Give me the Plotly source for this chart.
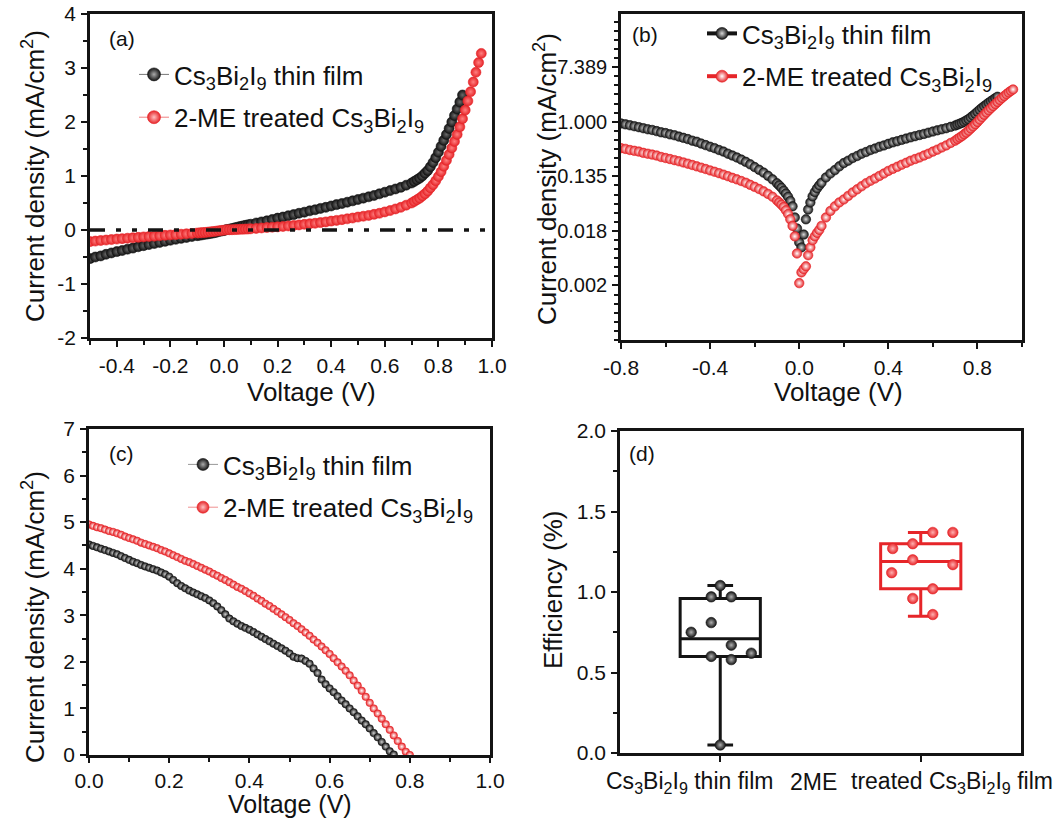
import numpy as np
import plotly.graph_objects as go

# ---------------- data ----------------
# (a)/(b) dark J-V (signed current density, mA/cm2)
V_dark_black = [-0.80, -0.78, -0.76, -0.74, -0.72, -0.70, -0.68, -0.66, -0.64, -0.62, -0.60, -0.58,
                -0.56, -0.54, -0.52, -0.50, -0.48, -0.46, -0.44, -0.42, -0.40, -0.38, -0.36, -0.34,
                -0.32, -0.30, -0.28, -0.26, -0.24, -0.22, -0.20, -0.18, -0.16, -0.14, -0.12, -0.10,
                -0.09, -0.08, -0.07, -0.06, -0.05, -0.04, -0.03, -0.02, -0.01, 0.00, 0.01, 0.02,
                0.03, 0.04, 0.05, 0.06, 0.07, 0.08, 0.09, 0.10,
                0.12, 0.14, 0.16, 0.18, 0.20, 0.22, 0.24, 0.26, 0.28, 0.30, 0.32, 0.34, 0.36, 0.38,
                0.40, 0.42, 0.44, 0.46, 0.48, 0.50, 0.52, 0.54, 0.56, 0.58, 0.60, 0.62, 0.64, 0.66,
                0.68, 0.70, 0.71, 0.72, 0.73, 0.74, 0.75, 0.76, 0.77, 0.78, 0.79, 0.80, 0.81, 0.82,
                0.83, 0.84, 0.85, 0.86, 0.87, 0.88, 0.89]
J_dark_black = [-0.94, -0.91, -0.88, -0.85, -0.82, -0.79, -0.76, -0.74, -0.71, -0.68, -0.66, -0.63,
                -0.61, -0.58, -0.555, -0.53, -0.50, -0.48, -0.45, -0.425, -0.40, -0.38, -0.355, -0.335,
                -0.31, -0.29, -0.27, -0.25, -0.23, -0.21, -0.19, -0.172, -0.155, -0.138, -0.121, -0.105,
                -0.097, -0.089, -0.080, -0.072, -0.064, -0.055, -0.045, -0.030, -0.020, -0.012, 0.010, 0.016,
                0.028, 0.040, 0.052, 0.065, 0.076, 0.087, 0.097, 0.107,
                0.13, 0.15, 0.17, 0.195, 0.22, 0.24, 0.265, 0.285, 0.31, 0.33, 0.355, 0.375, 0.40, 0.42,
                0.445, 0.47, 0.49, 0.515, 0.54, 0.565, 0.59, 0.615, 0.64, 0.67, 0.70, 0.73, 0.76, 0.79,
                0.83, 0.87, 0.90, 0.93, 0.96, 1.00, 1.05, 1.10, 1.17, 1.25, 1.34, 1.44, 1.55, 1.66,
                1.77, 1.88, 2.00, 2.12, 2.24, 2.37, 2.50]

V_dark_red = [-0.80, -0.78, -0.76, -0.74, -0.72, -0.70, -0.68, -0.66, -0.64, -0.62, -0.60, -0.58,
              -0.56, -0.54, -0.52, -0.50, -0.48, -0.46, -0.44, -0.42, -0.40, -0.38, -0.36, -0.34,
              -0.32, -0.30, -0.28, -0.26, -0.24, -0.22, -0.20, -0.18, -0.16, -0.14, -0.12, -0.10,
              -0.09, -0.08, -0.07, -0.06, -0.05, -0.04, -0.03, -0.02, -0.01, 0.00, 0.01, 0.02,
              0.03, 0.04, 0.05, 0.06, 0.07, 0.08, 0.09, 0.10,
              0.12, 0.14, 0.16, 0.18, 0.20, 0.22, 0.24, 0.26, 0.28, 0.30, 0.32, 0.34, 0.36, 0.38,
              0.40, 0.42, 0.44, 0.46, 0.48, 0.50, 0.52, 0.54, 0.56, 0.58, 0.60, 0.62, 0.64, 0.66,
              0.68, 0.70, 0.71, 0.72, 0.73, 0.74, 0.75, 0.76, 0.77, 0.78, 0.79, 0.80, 0.81, 0.82,
              0.83, 0.84, 0.85, 0.86, 0.87, 0.88, 0.89, 0.90, 0.91, 0.92, 0.93, 0.94, 0.95, 0.96]
J_dark_red = [-0.38, -0.37, -0.355, -0.345, -0.335, -0.32, -0.31, -0.30, -0.29, -0.275, -0.265, -0.255,
              -0.245, -0.235, -0.225, -0.215, -0.205, -0.195, -0.186, -0.177, -0.168, -0.16, -0.152, -0.144,
              -0.136, -0.128, -0.121, -0.114, -0.107, -0.099, -0.092, -0.085, -0.078, -0.071, -0.064, -0.056,
              -0.052, -0.048, -0.044, -0.039, -0.034, -0.028, -0.022, -0.015, -0.008, -0.0027, 0.004, 0.0045,
              0.005, 0.0075, 0.010, 0.013, 0.015, 0.017, 0.019, 0.022,
              0.030, 0.038, 0.045, 0.052, 0.058, 0.066, 0.075, 0.084, 0.094, 0.105, 0.115, 0.125, 0.137, 0.150,
              0.165, 0.178, 0.192, 0.207, 0.222, 0.24, 0.255, 0.27, 0.29, 0.31, 0.335, 0.36, 0.39, 0.42,
              0.46, 0.50, 0.53, 0.56, 0.59, 0.63, 0.67, 0.72, 0.78, 0.84, 0.91, 0.99, 1.08, 1.18,
              1.29, 1.40, 1.52, 1.64, 1.77, 1.91, 2.06, 2.22, 2.39, 2.56, 2.74, 2.92, 3.10, 3.27]

# (c) illuminated J-V (mA/cm2)
V_light_black = [0.00, 0.01, 0.02, 0.03, 0.04, 0.05, 0.06, 0.07, 0.08, 0.09, 0.10, 0.11, 0.12, 0.13,
                 0.14, 0.15, 0.16, 0.17, 0.18, 0.19, 0.20, 0.21, 0.22, 0.23, 0.24, 0.25, 0.26, 0.27,
                 0.28, 0.29, 0.30, 0.31, 0.32, 0.33, 0.34, 0.35, 0.36, 0.37, 0.38, 0.39, 0.40, 0.41,
                 0.42, 0.43, 0.44, 0.45, 0.46, 0.47, 0.48, 0.49, 0.50, 0.51, 0.52, 0.53, 0.54, 0.55,
                 0.56, 0.57, 0.58, 0.59, 0.60, 0.61, 0.62, 0.63, 0.64, 0.65, 0.66, 0.67, 0.68, 0.69,
                 0.70, 0.71, 0.72, 0.73, 0.74, 0.75, 0.76]
J_light_black = [4.52, 4.49, 4.46, 4.43, 4.40, 4.37, 4.34, 4.31, 4.27, 4.23, 4.19, 4.15, 4.12, 4.08,
                 4.05, 4.02, 3.99, 3.96, 3.92, 3.88, 3.83, 3.76, 3.69, 3.63, 3.58, 3.53, 3.49, 3.45,
                 3.41, 3.37, 3.32, 3.26, 3.19, 3.11, 3.02, 2.93, 2.87, 2.82, 2.77, 2.73, 2.69, 2.64,
                 2.59, 2.54, 2.49, 2.44, 2.39, 2.34, 2.29, 2.24, 2.18, 2.11, 2.08, 2.07, 2.02, 1.96,
                 1.86, 1.76, 1.62, 1.52, 1.43, 1.35, 1.26, 1.17, 1.09, 1.00, 0.92, 0.83, 0.74, 0.66,
                 0.57, 0.47, 0.38, 0.28, 0.18, 0.08, 0.01]
V_light_red = [0.00, 0.01, 0.02, 0.03, 0.04, 0.05, 0.06, 0.07, 0.08, 0.09, 0.10, 0.11, 0.12, 0.13,
               0.14, 0.15, 0.16, 0.17, 0.18, 0.19, 0.20, 0.21, 0.22, 0.23, 0.24, 0.25, 0.26, 0.27,
               0.28, 0.29, 0.30, 0.31, 0.32, 0.33, 0.34, 0.35, 0.36, 0.37, 0.38, 0.39, 0.40, 0.41,
               0.42, 0.43, 0.44, 0.45, 0.46, 0.47, 0.48, 0.49, 0.50, 0.51, 0.52, 0.53, 0.54, 0.55,
               0.56, 0.57, 0.58, 0.59, 0.60, 0.61, 0.62, 0.63, 0.64, 0.65, 0.66, 0.67, 0.68, 0.69,
               0.70, 0.71, 0.72, 0.73, 0.74, 0.75, 0.76, 0.77, 0.78, 0.79, 0.80]
J_light_red = [4.95, 4.92, 4.89, 4.87, 4.84, 4.81, 4.79, 4.76, 4.73, 4.69, 4.66, 4.63, 4.60, 4.56,
               4.53, 4.50, 4.47, 4.44, 4.40, 4.37, 4.33, 4.29, 4.25, 4.21, 4.17, 4.14, 4.10, 4.06,
               4.02, 3.98, 3.94, 3.89, 3.85, 3.80, 3.76, 3.71, 3.66, 3.61, 3.57, 3.52, 3.47, 3.42,
               3.36, 3.31, 3.25, 3.20, 3.14, 3.08, 3.02, 2.96, 2.90, 2.83, 2.77, 2.70, 2.63, 2.56,
               2.48, 2.41, 2.33, 2.25, 2.17, 2.08, 1.99, 1.90, 1.81, 1.71, 1.60, 1.49, 1.38, 1.25,
               1.12, 1.00, 0.89, 0.78, 0.66, 0.54, 0.42, 0.30, 0.18, 0.07, 0.00]

# (d) efficiency box plots
box_positions = [1, 2]
eff_black = [1.04, 0.97, 0.97, 0.81, 0.75, 0.67, 0.62, 0.60, 0.58, 0.05]
eff_black_offset = [0.0, -0.045, 0.055, -0.045, -0.145, 0.055, 0.155, -0.045, 0.055, 0.0]
eff_red = [1.37, 1.37, 1.30, 1.27, 1.20, 1.17, 1.12, 1.02, 0.96, 0.86]
eff_red_offset = [0.06, 0.16, -0.04, -0.14, -0.04, 0.16, -0.145, 0.06, -0.04, 0.06]
box_black_stats = dict(q1=0.60, median=0.71, q3=0.96, lowerfence=0.05, upperfence=1.04)
box_red_stats = dict(q1=1.02, median=1.19, q3=1.30, lowerfence=0.85, upperfence=1.37)

zero_level = 0

label_black = "Cs<sub>3</sub>Bi<sub>2</sub>I<sub>9</sub> thin film"
label_red = "2-ME treated Cs<sub>3</sub>Bi<sub>2</sub>I<sub>9</sub>"

# tick labels
a_xticks = [-0.4, -0.2, 0.0, 0.2, 0.4, 0.6, 0.8, 1.0]
a_xtext = ["-0.4", "-0.2", "0.0", "0.2", "0.4", "0.6", "0.8", "1.0"]
a_yticks = [-2, -1, 0, 1, 2, 3, 4]
a_ytext = ["-2", "-1", "0", "1", "2", "3", "4"]
b_xticks = [-0.8, -0.4, 0.0, 0.4, 0.8]
b_xtext = ["-0.8", "-0.4", "0.0", "0.4", "0.8"]
b_ln_ticks = [-6, -4, -2, 0, 2]
b_ytext = ["0.002", "0.018", "0.135", "1.000", "7.389"]

# ---------------- styling ----------------
FONT = "Liberation Sans, Arial, sans-serif"
BLACK = "#141414"
RED = "#e62529"
W, H = 1057, 818


def px_x(p):
    return p / W


def px_y(p):
    return 1 - p / H


def ball(color, center, size):
    return dict(color=color, size=size, gradient=dict(type="radial", color=center),
                line=dict(color=color, width=0.6))


fig = go.Figure()

# ---- (a)
fig.add_trace(go.Scatter(x=V_dark_black, y=J_dark_black, mode="markers", xaxis="x", yaxis="y",
                         marker=ball(BLACK, "#6a6a6a", 10), showlegend=False))
fig.add_trace(go.Scatter(x=V_dark_red, y=J_dark_red, mode="markers", xaxis="x", yaxis="y",
                         marker=ball(RED, "#ff8080", 10), showlegend=False))
fig.add_shape(type="line", xref="x domain", x0=0, x1=1, yref="y", y0=zero_level, y1=zero_level,
              line=dict(color=BLACK, width=3.5, dash="15px,11px,5px,11px,5px,11px"), layer="above")
fig.add_trace(go.Scatter(x=[None], y=[None], mode="lines+markers", xaxis="x", yaxis="y",
                         name=label_black, legend="legend", legendgroup="a1",
                         line=dict(color="#777777", width=1), marker=ball(BLACK, "#aaaaaa", 13)))
fig.add_trace(go.Scatter(x=[None], y=[None], mode="lines+markers", xaxis="x", yaxis="y",
                         name=label_red, legend="legend", legendgroup="a2",
                         line=dict(color="#f08080", width=1), marker=ball(RED, "#ffc0c0", 13)))

# ---- (b)
fig.add_trace(go.Scatter(x=V_dark_black, y=np.abs(J_dark_black), mode="markers", xaxis="x2", yaxis="y2",
                         marker=ball(BLACK, "#d8d8d8", 9.5), showlegend=False))
fig.add_trace(go.Scatter(x=V_dark_red, y=np.abs(J_dark_red), mode="markers", xaxis="x2", yaxis="y2",
                         marker=ball(RED, "#ffffff", 9.5), showlegend=False))
fig.add_trace(go.Scatter(x=[None], y=[None], mode="lines+markers", xaxis="x2", yaxis="y2",
                         name=label_black, legend="legend2", legendgroup="b1",
                         line=dict(color=BLACK, width=4), marker=ball(BLACK, "#d8d8d8", 12)))
fig.add_trace(go.Scatter(x=[None], y=[None], mode="lines+markers", xaxis="x2", yaxis="y2",
                         name=label_red, legend="legend2", legendgroup="b2",
                         line=dict(color=RED, width=4), marker=ball(RED, "#ffffff", 12)))

# ---- (c)
fig.add_trace(go.Scatter(x=V_light_black, y=J_light_black, mode="markers", xaxis="x3", yaxis="y3",
                         marker=ball(BLACK, "#d0d0d0", 7.5), showlegend=False))
fig.add_trace(go.Scatter(x=V_light_red, y=J_light_red, mode="markers", xaxis="x3", yaxis="y3",
                         marker=ball(RED, "#ffffff", 7.5), showlegend=False))
fig.add_trace(go.Scatter(x=[None], y=[None], mode="lines+markers", xaxis="x3", yaxis="y3",
                         name=label_black, legend="legend3", legendgroup="c1",
                         line=dict(color="#999999", width=1), marker=ball(BLACK, "#aaaaaa", 12)))
fig.add_trace(go.Scatter(x=[None], y=[None], mode="lines+markers", xaxis="x3", yaxis="y3",
                         name=label_red, legend="legend3", legendgroup="c2",
                         line=dict(color="#f09090", width=1), marker=ball(RED, "#ffc0c0", 12)))

# ---- (d)
for pos, stats, col in [(box_positions[0], box_black_stats, BLACK), (box_positions[1], box_red_stats, RED)]:
    fig.add_trace(go.Box(x=[pos], q1=[stats["q1"]], median=[stats["median"]], q3=[stats["q3"]],
                         lowerfence=[stats["lowerfence"]], upperfence=[stats["upperfence"]],
                         xaxis="x4", yaxis="y4", width=0.4, whiskerwidth=0.32,
                         fillcolor="rgba(0,0,0,0)", line=dict(color=col, width=3),
                         boxpoints=False, showlegend=False))
fig.add_trace(go.Scatter(x=[box_positions[0] + o for o in eff_black_offset], y=eff_black, mode="markers",
                         xaxis="x4", yaxis="y4", marker=ball(BLACK, "#b0b0b0", 10.5), showlegend=False))
fig.add_trace(go.Scatter(x=[box_positions[1] + o for o in eff_red_offset], y=eff_red, mode="markers",
                         xaxis="x4", yaxis="y4", marker=ball(RED, "#ffb0b0", 10.5), showlegend=False))

# ---------------- axes ----------------
TICKFONT = dict(family=FONT, size=21, color="#111111")


def axis(domain, rng, anchor, **kw):
    d = dict(domain=domain, range=rng, anchor=anchor, showline=True, linecolor=BLACK, linewidth=2.5,
             mirror=True, ticks="outside", ticklen=6, tickwidth=2, tickcolor=BLACK, showgrid=False,
             zeroline=False, tickfont=TICKFONT, ticklabelstandoff=1, automargin=False)
    d.update(kw)
    return d


minor_std = dict(ticks="outside", ticklen=4, tickwidth=1.5, tickcolor=BLACK, showgrid=False)

dom_a_x = [px_x(90), px_x(492)]
dom_a_y = [px_y(338), px_y(14)]
dom_b_x = [px_x(621), px_x(1022)]
dom_b_y = [px_y(340), px_y(14)]
dom_c_x = [px_x(89), px_x(490)]
dom_c_y = [px_y(755), px_y(429)]
dom_d_x = [px_x(620), px_x(1021)]
dom_d_y = [px_y(753), px_y(431)]

ln10 = np.log(10)
b_minor = list(np.exp(np.arange(-8, 4.01, 1 / 3)))

layout = dict(
    width=W, height=H, margin=dict(l=0, r=0, t=0, b=0, autoexpand=False),
    plot_bgcolor="white", paper_bgcolor="white",
    font=dict(family=FONT, color="#111111"),
    xaxis=axis(dom_a_x, [-0.5, 1.0], "y", tickmode="array", tickvals=a_xticks, ticktext=a_xtext,
               minor=dict(dtick=0.1, tick0=0, **minor_std)),
    yaxis=axis(dom_a_y, [-2, 4], "x", tickmode="array", tickvals=a_yticks, ticktext=a_ytext,
               minor=dict(dtick=0.5, tick0=0, **minor_std)),
    xaxis2=axis(dom_b_x, [-0.8, 1.0], "y2", tickmode="array", tickvals=b_xticks, ticktext=b_xtext,
                minor=dict(dtick=0.2, tick0=0, **minor_std)),
    yaxis2=axis(dom_b_y, [-8.0 / ln10, 3.95 / ln10], "x2", type="log", tickmode="array",
                tickvals=list(np.exp(b_ln_ticks)), ticktext=b_ytext,
                tickfont=dict(family=FONT, size=20, color="#111111"),
                minor=dict(tickmode="array", tickvals=b_minor, **minor_std)),
    xaxis3=axis(dom_c_x, [0, 1.0], "y3", dtick=0.2, tick0=0, tickformat=".1f", ticklen=5,
                ticklabelstandoff=0,
                minor=dict(dtick=0.1, tick0=0, **minor_std)),
    yaxis3=axis(dom_c_y, [0, 7], "x3", dtick=1, tick0=0,
                minor=dict(dtick=0.5, tick0=0, **minor_std)),
    xaxis4=axis(dom_d_x, [0.5, 2.5], "y4", tickmode="array", tickvals=box_positions, showticklabels=False),
    yaxis4=axis(dom_d_y, [0, 2.0], "x4", dtick=0.5, tick0=0, tickformat=".1f",
                minor=dict(dtick=0.25, tick0=0, **minor_std)),
)

LEGFONT = dict(family=FONT, size=26, color="#111111")
leg_common = dict(bgcolor="rgba(0,0,0,0)", font=LEGFONT, xanchor="left", yanchor="top",
                  itemsizing="trace", tracegroupgap=6, traceorder="grouped")
layout["legend"] = dict(x=px_x(134), y=px_y(51), **leg_common)
layout["legend2"] = dict(x=px_x(702), y=px_y(10), **leg_common)
layout["legend3"] = dict(x=px_x(183), y=px_y(441), **leg_common)
layout["showlegend"] = True

fig.update_layout(**layout)

# ---------------- text annotations ----------------
ann = []


def text(x, y, s, size=26, angle=0):
    ann.append(dict(xref="paper", yref="paper", x=px_x(x), y=px_y(y), text=s, showarrow=False,
                    textangle=angle, xanchor="center", yanchor="middle",
                    font=dict(family=FONT, size=size, color="#111111")))


ytitle = "Current density (mA/cm<sup>2</sup>)"
text(33, 176, ytitle, angle=-90)
text(546, 179, ytitle, angle=-90)
text(33, 617, ytitle, angle=-90)
text(553, 590, "Efficiency (%)", angle=-90)
text(311, 392, "Voltage (V)")
text(838, 392, "Voltage (V)")
text(290, 804, "Voltage (V)", size=25)
text(122, 39, "(a)", size=21)
text(645, 35, "(b)", size=21)
text(121, 453, "(c)", size=21)
text(642, 454, "(d)", size=21)
text(689, 782, "Cs<sub>3</sub>Bi<sub>2</sub>I<sub>9</sub> thin film", size=23)
text(813, 782, "2ME", size=23)
text(952, 782, "treated Cs<sub>3</sub>Bi<sub>2</sub>I<sub>9</sub> film", size=23)
fig.update_layout(annotations=ann)

fig.write_html("out.html", config={"displayModeBar": False},
               post_script="document.body.style.margin='0px';document.body.style.padding='0px';")
